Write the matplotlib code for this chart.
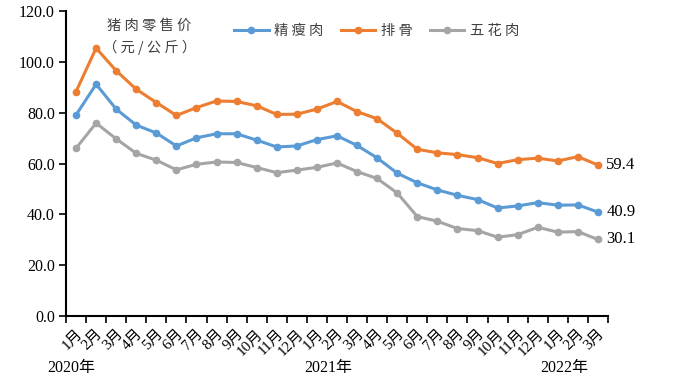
import matplotlib
matplotlib.use("Agg")
import matplotlib.pyplot as plt
import numpy as np

months = ["1月", "2月", "3月", "4月", "5月", "6月", "7月", "8月", "9月", "10月", "11月", "12月",
          "1月", "2月", "3月", "4月", "5月", "6月", "7月", "8月", "9月", "10月", "11月", "12月",
          "1月", "2月", "3月"]
years = ["2020年", "2021年", "2022年"]
year_pos = [-0.25, 12.55, 24.3]

lean = [79.1, 91.2, 81.4, 75.1, 72.0, 66.9, 70.1, 71.7, 71.7, 69.2, 66.5, 66.9,
        69.4, 70.9, 67.1, 62.2, 56.2, 52.4, 49.6, 47.5, 45.8, 42.5, 43.3, 44.6,
        43.6, 43.7, 40.9]
ribs = [88.3, 105.4, 96.5, 89.2, 84.0, 78.9, 82.0, 84.6, 84.4, 82.7, 79.3, 79.4,
        81.4, 84.4, 80.4, 77.6, 71.9, 65.6, 64.2, 63.5, 62.3, 60.0, 61.5, 62.1,
        61.0, 62.7, 59.4]
belly = [66.0, 75.9, 69.7, 64.0, 61.3, 57.5, 59.7, 60.6, 60.4, 58.4, 56.4, 57.4,
         58.5, 60.2, 56.8, 54.1, 48.4, 39.1, 37.3, 34.4, 33.6, 31.0, 32.0, 34.9,
         33.0, 33.2, 30.1]
series_names = ["精瘦肉", "排骨", "五花肉"]
legend_labels = ["精 瘦 肉", "排 骨", "五 花 肉"]
colors = ["#5B9BD5", "#ED7D31", "#A5A5A5"]

serif = ["Liberation Serif", "Noto Sans CJK SC"]
cjk = ["Noto Sans CJK SC", "DejaVu Sans"]

fig = plt.figure(figsize=(6.85, 3.79), dpi=100)
ax = fig.add_axes([66/685, 1-316/379, 542/685, 305/379])

x = np.arange(len(months))
handles = []
for data, c, name in zip([lean, ribs, belly], colors, series_names):
    ln, = ax.plot(x, data, color=c, lw=2.2, marker="o", ms=4.5, label=name)
    handles.append(ln)

ax.set_xlim(-0.5, len(months) - 0.5)
ax.set_ylim(0, 120)
ax.set_yticks(np.arange(0, 121, 20))
ax.set_yticklabels([f"{v:.1f}" for v in np.arange(0, 121, 20)], family=serif, fontsize=11.5)

ax.set_xticks(np.arange(-0.5, len(months), 1.0))
ax.set_xticklabels([])
ax.set_xticks(x, minor=True)
ax.set_xticklabels(months, minor=True, rotation=45, ha="right", va="top",
                   rotation_mode="anchor", family=serif, fontsize=11)
ax.tick_params(axis="x", which="minor", length=0, pad=8)
ax.tick_params(axis="x", which="major", direction="out", length=5, width=1.2)
ax.tick_params(axis="y", direction="out", length=5, width=1.2, pad=3)

for s in ["top", "right"]:
    ax.spines[s].set_visible(False)
for s in ["left", "bottom"]:
    ax.spines[s].set_linewidth(1.5)
    ax.spines[s].set_color("black")

trans = matplotlib.transforms.blended_transform_factory(ax.transData, ax.transAxes)
for yl, xp in zip(years, year_pos):
    ax.text(xp, -0.17, yl, transform=trans, ha="center", va="center",
            family=serif, fontsize=11.5)

# end labels
for data, c in zip([ribs, lean, belly], colors):
    ax.annotate(f"{data[-1]:.1f}", xy=(x[-1], data[-1]), xytext=(6, 0),
                textcoords="offset points", va="center", ha="left",
                family=serif, fontsize=12, annotation_clip=False)

ax.text(0.154, 0.975, "猪 肉 零 售 价\n（ 元 / 公 斤 ）", transform=ax.transAxes,
        ha="center", va="top", family=cjk, fontsize=10.3, color="#404040",
        linespacing=1.55)

leg = ax.legend(handles=handles, labels=legend_labels,
                loc="upper center", bbox_to_anchor=(0.573, 1.0), ncol=3,
                frameon=False, prop={"family": cjk, "size": 10.3},
                handlelength=2.4, columnspacing=1.2, handletextpad=0.4)
for t in leg.get_texts():
    t.set_color("#404040")

fig.savefig("out.png", dpi=100)
